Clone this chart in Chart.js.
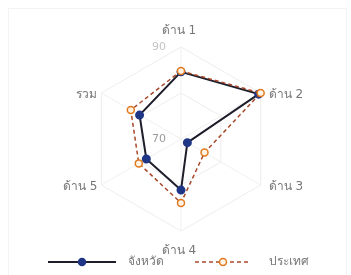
<!DOCTYPE html>
<html>
<head>
<meta charset="utf-8">
<script src="https://cdn.jsdelivr.net/npm/chart.js@4"></script>
<style>
  html, body { margin: 0; padding: 0; background: #fff; }
  #wrap { position: relative; width: 351px; height: 275px; }
  #frame { position: absolute; left: 8px; top: 8px; right: 4px; bottom: -2px; border: 1px solid #f3f3f3; }
  canvas { position: absolute; left: 0; top: 0; }
</style>
</head>
<body>
<div id="wrap">
  <div id="frame"></div>
  <canvas id="radar" width="351" height="275"></canvas>
</div>
<script>
const labels = ['ด้าน 1', 'ด้าน 2', 'ด้าน 3', 'ด้าน 4', 'ด้าน 5', 'รวม'];
const provinceValues = [84.6, 89.5, 71.6, 81.1, 78.7, 80.4];
const countryValues = [84.8, 90.0, 75.9, 83.9, 80.6, 82.6];
const tickLabels = [70, 90];

const labelFont = '12px "DejaVu Sans", sans-serif';

// small canvases used as legend symbols (line + marker)
function legendSymbol(width, dashed, lineColor, dotFill, dotStroke) {
    const c = document.createElement('canvas');
    c.width = width;
    c.height = 10;
    const g = c.getContext('2d');
    g.strokeStyle = lineColor;
    g.lineWidth = dashed ? 1.5 : 2;
    if (dashed) g.setLineDash([4, 3]);
    g.beginPath();
    g.moveTo(0, 5);
    g.lineTo(width, 5);
    g.stroke();
    g.setLineDash([]);
    g.beginPath();
    g.arc(width / 2, 5, 3.5, 0, Math.PI * 2);
    g.fillStyle = dotFill;
    g.fill();
    g.lineWidth = 1.5;
    g.strokeStyle = dotStroke;
    g.stroke();
    return c;
}

const solidSymbol = legendSymbol(68, false, '#1d1d2b', '#1f3585', '#1f3585');
const dashedSymbol = legendSymbol(56, true, '#a8482a', '#fff3e6', '#e07a1f');

// category labels placed around the outer ring, Excel style
const sideLabels = {
    id: 'sideLabels',
    afterDatasetsDraw(chart) {
        const scale = chart.scales.r;
        const ctx = chart.ctx;
        ctx.save();
        ctx.font = labelFont;
        ctx.fillStyle = '#777';
        ctx.textBaseline = 'middle';
        labels.forEach((text, i) => {
            const p = scale.getPointPosition(i, scale.drawingArea);
            const dx = p.x - scale.xCenter;
            if (Math.abs(dx) < 1) {
                ctx.textAlign = 'center';
                ctx.fillText(text, p.x - 2, p.y + (p.y < scale.yCenter ? -16 : 20));
            } else if (dx > 0) {
                ctx.textAlign = 'left';
                ctx.fillText(text, p.x + 8, p.y + 2);
            } else {
                ctx.textAlign = 'right';
                ctx.fillText(text, p.x - 4, p.y + 2);
            }
        });

        // tick labels left of the vertical axis
        ctx.font = '11px "DejaVu Sans", sans-serif';
        ctx.textAlign = 'right';
        tickLabels.forEach(v => {
            const d = scale.getDistanceFromCenterForValue(v);
            ctx.fillStyle = v === 90 ? '#c4c4c4' : '#9a9a9a';
            ctx.fillText(String(v), scale.xCenter - 15, scale.yCenter - d);
        });
        ctx.restore();
    }
};

const ctx = document.getElementById('radar').getContext('2d');
new Chart(ctx, {
    type: 'radar',
    data: {
        labels: labels,
        datasets: [{
            label: 'จังหวัด',
            data: provinceValues,
            order: 1,
            borderColor: '#1d1d2b',
            borderWidth: 2,
            backgroundColor: 'transparent',
            pointBackgroundColor: '#1f3585',
            pointBorderColor: '#1f3585',
            pointRadius: 3.5,
            fill: false,
            tension: 0
        }, {
            label: 'ประเทศ',
            data: countryValues,
            order: 0,
            borderColor: '#a8482a',
            borderWidth: 1.5,
            borderDash: [4, 3],
            backgroundColor: 'transparent',
            pointBackgroundColor: '#fff3e6',
            pointBorderColor: '#e07a1f',
            pointBorderWidth: 1.5,
            pointRadius: 3.5,
            fill: false,
            tension: 0
        }]
    },
    options: {
        responsive: false,
        animation: false,
        layout: { padding: { top: 0, left: 0, right: 0, bottom: -3 } },
        scales: {
            r: {
                min: 70,
                max: 90,
                ticks: { stepSize: 10, display: false },
                grid: { color: '#ededed' },
                angleLines: { color: '#f0f0f0' },
                pointLabels: { display: false },
                afterFit(scale) {
                    // plot area as in the reference picture
                    scale.drawingArea = 92;
                    scale.xCenter = 181;
                    scale.yCenter = 139;
                }
            }
        },
        plugins: {
            tooltip: { enabled: false },
            legend: {
                position: 'bottom',
                labels: {
                    usePointStyle: true,
                    pointStyleWidth: 80,
                    boxHeight: 10,
                    padding: 19,
                    color: '#777',
                    font: { size: 12, family: '"DejaVu Sans", sans-serif' },
                    generateLabels(chart) {
                        return chart.data.datasets.map((ds, i) => ({
                            text: ds.label,
                            pointStyle: i === 0 ? solidSymbol : dashedSymbol,
                            fillStyle: 'transparent',
                            strokeStyle: 'transparent',
                            fontColor: '#777',
                            datasetIndex: i,
                            hidden: false
                        }));
                    }
                }
            }
        }
    },
    plugins: [sideLabels]
});
</script>
</body>
</html>
